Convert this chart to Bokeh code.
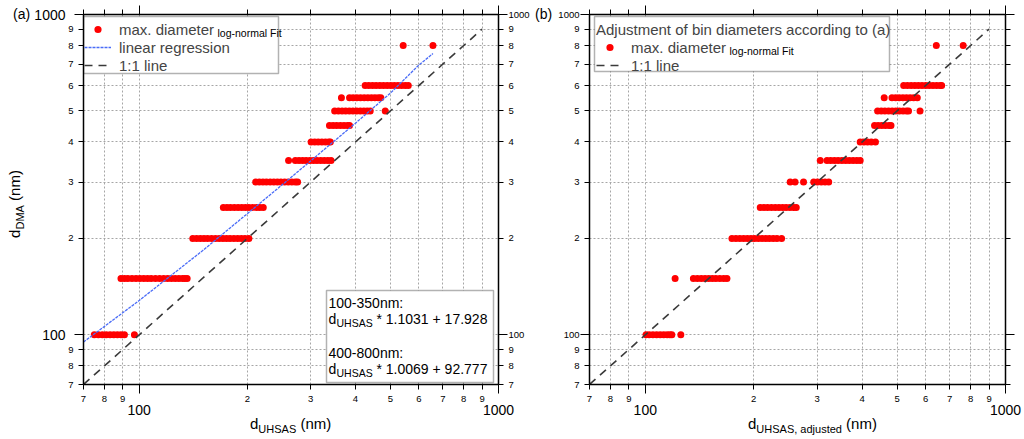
import math
from bokeh.plotting import figure
from bokeh.models import (LogAxis, FixedTicker, CustomJSTickFormatter, Legend, LegendItem,
                          Label, BoxAnnotation, Range1d, ColumnDataSource, Div,
                          CustomLabelingPolicy)
from bokeh.layouts import row, column
from bokeh.embed import file_html
from bokeh.resources import INLINE

FONT = "Liberation Sans"
RED = "#ff0000"
BLUE = "#4a6cf7"
DASH_COLOR = "#3a3a3a"
GRID_COLOR = "#a6a6a6"

# ---------------- axis ticks ----------------
tick_vals = [70, 80, 90, 100, 200, 300, 400, 500, 600, 700, 800, 900, 1000]
small_labels = ["7", "8", "9", "", "2", "3", "4", "5", "6", "7", "8", "9", ""]
full_labels = ["7", "8", "9", "100", "2", "3", "4", "5", "6", "7", "8", "9", "1000"]
major_vals = [100, 1000]
major_labels = ["100", "1000"]
minor_vals = [70, 80, 90, 200, 300, 400, 500, 600, 700, 800, 900]

# ---------------- data ----------------
dma_sizes = [100, 150, 200, 250, 300, 350, 400, 450, 500, 550, 600, 800]

# panel (a): d_UHSAS per DMA size
a_100 = [75, 77, 79, 81, 83, 85, 87, 89, 91, 97]
a_150 = [89, 91, 93, 95.5, 98, 100.5, 103, 105.5, 108, 111, 114, 117, 120, 123, 126, 129, 132, 134, 136]
a_200 = [141, 144.5, 148, 151.5, 155, 159, 163, 167, 171, 175, 179, 183.5, 188, 192.5, 197, 202]
a_250 = [171.5, 175.5, 179.5, 184, 188.5, 193, 197.5, 202, 207, 212, 216.5, 221.5]
a_300 = [211, 216, 221, 226, 231.5, 237, 242.5, 248, 254, 260, 266, 272, 276]
a_350 = [260.5, 272, 278.5, 285, 291.5, 298.5, 305.5, 312.5, 320, 327.5, 335, 342]
a_400 = [301, 308, 315, 322.5, 330, 337, 340.5]
a_450 = [338.5, 346.5, 354.5, 363, 371.5, 380, 385]
a_500 = [350, 358.5, 367, 375.5, 384.5, 393.5, 403, 412.5, 422, 431, 439.5, 484]
a_550 = [365.5, 385, 394, 403.5, 413, 423, 433, 443, 453, 463, 470.5]
a_600 = [425.5, 435.5, 446, 456.5, 467.5, 478.5, 490, 501.5, 513, 525, 537.5, 550, 561]
a_800 = [543, 657]

# panel (b): adjusted d_UHSAS per DMA size
b_100 = [100.5, 102.5, 105, 107.5, 110, 112.5, 115, 117, 118.5, 125.5]
b_150 = [121, 136, 139.5, 143, 146.5, 150, 153.5, 157, 161, 165, 168.5]
b_200 = [174, 178.5, 183, 187.5, 192, 196.5, 201, 206, 211, 216, 221, 226.5, 232, 239]
b_250 = [208.5, 213.5, 218.5, 224, 229.5, 235, 240.5, 246, 252, 258, 262.5]
b_300 = [252.5, 260.5, 275, 293.5, 300.5, 308, 315.5, 323]
b_350 = [306, 319.5, 327, 335, 343, 351.5, 360, 368.5, 377.5, 386.5, 395]
b_400 = [395, 404.5, 414, 424, 435.5]
b_450 = [433, 443, 453.5, 464, 475, 481]
b_500 = [441.5, 452, 462.5, 473.5, 484.5, 496, 507.5, 519.5, 531, 538, 579]
b_550 = [460.5, 484, 495.5, 507, 519, 531, 543.5, 556, 569]
b_600 = [521.5, 534, 547, 560, 573, 586.5, 600.5, 614.5, 629, 644, 659, 665]
b_800 = [642.5, 763]

a_rows = [a_100, a_150, a_200, a_250, a_300, a_350, a_400, a_450, a_500, a_550, a_600, a_800]
b_rows = [b_100, b_150, b_200, b_250, b_300, b_350, b_400, b_450, b_500, b_550, b_600, b_800]

# linear regression line
reg_x = [70, 100, 150, 200, 250, 300, 400, 500, 600, 657]
reg_y = [95, 128, 183, 239, 294, 349, 458, 568, 695, 755]

# 1:1 line
one_x = [70, 900]
one_y = [70, 900]


def flatten(rows):
    xs, ys = [], []
    for d, r in zip(dma_sizes, rows):
        xs += r
        ys += [d] * len(r)
    return xs, ys


def fmt(vals, labels):
    return CustomJSTickFormatter(args=dict(vals=vals, labels=labels), code="""
for (let i = 0; i < vals.length; i++) {
  if (Math.abs(vals[i] - tick) < 1e-6 * vals[i]) { return labels[i]; }
}
return '';
""")


def hide_policy():
    return CustomLabelingPolicy(code="""
const all = [...indices];
for (const i of all) { indices.unset(i); }
return indices;
""")


def base_axis(ax):
    ax.major_tick_in = 0
    ax.minor_tick_in = 0
    ax.major_tick_line_color = "black"
    ax.minor_tick_line_color = "black"
    ax.axis_line_color = "black"
    ax.axis_line_width = 1.5
    ax.major_label_text_font = FONT
    ax.major_label_text_color = "black"
    ax.axis_label = None


def tick_axis(ax, labels, standoff=1):
    base_axis(ax)
    ax.ticker = FixedTicker(ticks=tick_vals, minor_ticks=major_vals)
    ax.formatter = fmt(tick_vals, labels)
    ax.major_tick_out = 5
    ax.minor_tick_out = 9
    ax.major_label_text_font_size = "9.5px"
    ax.major_label_standoff = standoff


def bare_axis(ax):
    # ticks only, no labels
    base_axis(ax)
    ax.ticker = FixedTicker(ticks=major_vals, minor_ticks=minor_vals)
    ax.formatter = fmt(major_vals, major_labels)
    ax.major_tick_out = 9
    ax.minor_tick_out = 5
    ax.major_label_text_font_size = "1px"
    ax.major_label_standoff = 0
    ax.major_label_policy = hide_policy()


def big_axis(ax):
    ax.ticker = FixedTicker(ticks=major_vals)
    ax.formatter = fmt(major_vals, major_labels)
    ax.major_tick_out = 0
    ax.major_tick_in = 0
    ax.minor_tick_out = 0
    ax.minor_tick_in = 0
    ax.axis_line_color = None
    ax.major_label_standoff = 0
    ax.major_label_text_font = FONT
    ax.major_label_text_font_size = "14px"
    ax.major_label_text_color = "black"
    ax.axis_label = None


def lab(p, text, x, y, size, baseline="middle", level="overlay"):
    p.add_layout(Label(x=x, y=y, x_units="screen", y_units="screen", text=text,
                       text_font=FONT, text_font_size=size, text_baseline=baseline,
                       text_align="left", text_color="black", level=level))


def frame_box(p, left, right, bottom, top, level):
    p.add_layout(BoxAnnotation(left=left, right=right, bottom=bottom, top=top,
                               left_units="screen", right_units="screen",
                               bottom_units="screen", top_units="screen",
                               fill_color="white", fill_alpha=1.0,
                               line_color="black", line_width=1.5, level=level))


def make_panel(rows, width, ml, mr, left_two_tier, right_labels):
    p = figure(width=width, height=418, x_axis_type="log", y_axis_type="log",
               x_range=Range1d(70, 1000), y_range=Range1d(70, 1000),
               toolbar_location=None, output_backend="svg",
               min_border_left=ml, min_border_right=mr, min_border_top=14, min_border_bottom=34,
               outline_line_color=None, background_fill_color="white", border_fill_color="white")
    tick_axis(p.xaxis[0], small_labels, standoff=2)
    bx = LogAxis()
    big_axis(bx)
    p.add_layout(bx, "below")
    if left_two_tier:
        tick_axis(p.yaxis[0], small_labels, standoff=1)
        by = LogAxis()
        big_axis(by)
        p.add_layout(by, "left")
    else:
        tick_axis(p.yaxis[0], full_labels, standoff=1)
    top = LogAxis()
    bare_axis(top)
    p.add_layout(top, "above")
    rt = LogAxis()
    if right_labels:
        tick_axis(rt, full_labels, standoff=1)
    else:
        bare_axis(rt)
    p.add_layout(rt, "right")

    for g in (p.xgrid[0], p.ygrid[0]):
        g.grid_line_color = GRID_COLOR
        g.grid_line_dash = "2 2"
        g.grid_line_width = 1

    xs, ys = flatten(rows)
    src = ColumnDataSource(dict(x=xs, y=ys))
    sc = p.scatter("x", "y", source=src, size=7, fill_color=RED, line_color=None)
    return p, sc


DIV_FONT = "font-family:'Liberation Sans',Arial,sans-serif;color:black;"
SUB = "font-size:11px;vertical-align:-4px;"

# ---------------- panel (a) ----------------
p1, sc1 = make_panel(a_rows, 504, 52, 37, True, True)
reg = p1.line(reg_x, reg_y, line_color=BLUE, line_width=1.3, line_dash="3 1")
one1 = p1.line(one_x, one_y, line_color=DASH_COLOR, line_width=1.6, line_dash="8 6")

frame_box(p1, 0, 195, 311, 368, "underlay")
leg1 = Legend(items=[LegendItem(label="max. diameter", renderers=[sc1]),
                     LegendItem(label="linear regression", renderers=[reg]),
                     LegendItem(label="1:1 line", renderers=[one1])],
              location=(1, 310), margin=0, padding=2, spacing=0,
              glyph_width=27, glyph_height=18, label_height=18, label_standoff=8,
              label_text_font=FONT, label_text_font_size="15px",
              border_line_color=None, background_fill_alpha=0.0)
p1.add_layout(leg1)
lab(p1, "log-normal Fit", 134, 352, "10.5px")

# fit box
frame_box(p1, 243, 410, 2, 94, "annotation")
lab(p1, "100-350nm:", 245, 82, "14px")
lab(p1, "d", 245, 66, "14px")
lab(p1, "UHSAS", 253, 62, "10.5px")
lab(p1, "* 1.1031 + 17.928", 293, 66, "14px")
lab(p1, "400-800nm:", 245, 32, "14px")
lab(p1, "d", 245, 16, "14px")
lab(p1, "UHSAS", 253, 12, "10.5px")
lab(p1, "* 1.0069 + 92.777", 293, 16, "14px")

div_a = Div(width=31, height=439, margin=0, text=(
    f'<div style="position:relative;width:31px;height:439px;{DIV_FONT}">'
    '<div style="position:absolute;left:13px;top:6px;font-size:14px;line-height:16px;white-space:nowrap;">(a)</div>'
    '<div style="position:absolute;left:17px;top:204px;transform:translate(-50%,-50%) rotate(-90deg);'
    f'white-space:nowrap;font-size:15px;line-height:17px;">d<span style="{SUB}">DMA</span> (nm)</div>'
    '</div>'))
div_xa = Div(width=504, height=21, margin=0, text=(
    f'<div style="position:relative;width:504px;height:21px;{DIV_FONT}">'
    '<div style="position:absolute;left:219px;top:-3px;font-size:15px;line-height:17px;white-space:nowrap;">'
    f'd<span style="{SUB}">UHSAS</span> (nm)</div></div>'))

# ---------------- panel (b) ----------------
p2, sc2 = make_panel(b_rows, 471, 36, 19, False, False)
one2 = p2.line(one_x, one_y, line_color=DASH_COLOR, line_width=1.6, line_dash="8 6")
frame_box(p2, 5, 300, 313, 368, "underlay")
leg2 = Legend(items=[LegendItem(label="max. diameter", renderers=[sc2]),
                     LegendItem(label="1:1 line", renderers=[one2])],
              title="Adjustment of bin diameters according to (a)",
              title_text_font=FONT, title_text_font_size="15px", title_text_font_style="normal",
              title_standoff=0,
              location=(7, 310), margin=0, padding=2, spacing=0,
              glyph_width=27, glyph_height=18, label_height=18, label_standoff=8,
              label_text_font=FONT, label_text_font_size="15px",
              border_line_color=None, background_fill_alpha=0.0)
p2.add_layout(leg2)
lab(p2, "log-normal Fit", 140, 334, "10.5px")

div_b = Div(width=18, height=439, margin=0, text=(
    f'<div style="position:relative;width:18px;height:439px;{DIV_FONT}">'
    '<div style="position:absolute;left:0px;top:6px;font-size:14px;line-height:16px;white-space:nowrap;">(b)</div>'
    '</div>'))
div_xb = Div(width=471, height=21, margin=0, text=(
    f'<div style="position:relative;width:471px;height:21px;{DIV_FONT}">'
    '<div style="position:absolute;left:195px;top:-3px;font-size:15px;line-height:17px;white-space:nowrap;">'
    f'd<span style="{SUB}">UHSAS, adjusted</span> (nm)</div></div>'))

layout = row(div_a, column(p1, div_xa), div_b, column(p2, div_xb))
open("out.html", "w").write(file_html(layout, INLINE))
